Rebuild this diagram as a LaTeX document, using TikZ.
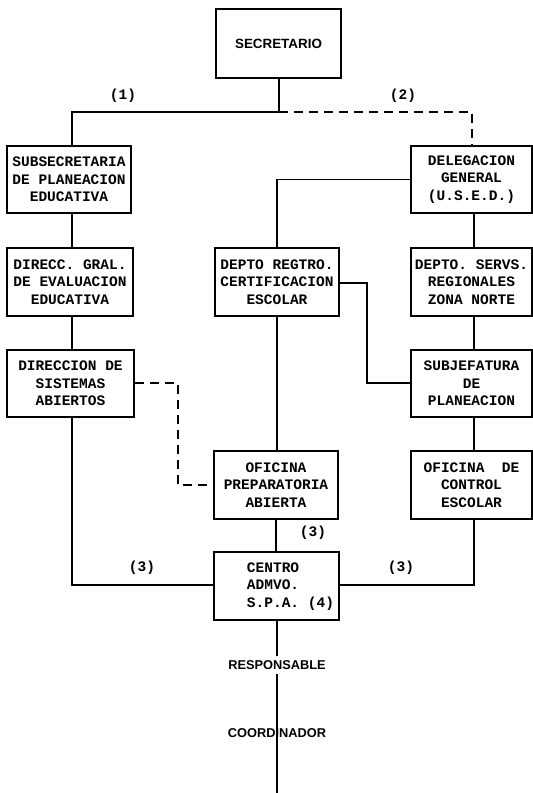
\documentclass[tikz,border=0pt]{standalone}
\usepackage{fontspec}
\setmainfont{Liberation Sans}
\setmonofont{Liberation Mono}
\begin{document}
\begin{tikzpicture}[x=1pt,y=-1pt,
  box/.style={draw,line width=1.5pt,inner sep=0pt,minimum height=67pt,align=center,
    font=\ttfamily\bfseries\fontsize{14.5}{17.5}\selectfont},
  conn/.style={line width=1.5pt},
  dconn/.style={line width=1.5pt,dash pattern=on 9pt off 6pt},
  lab/.style={font=\ttfamily\bfseries\fontsize{14.5}{17.5}\selectfont,inner sep=0pt},
  plainlab/.style={font=\rmfamily\bfseries\fontsize{12.8}{15}\selectfont,inner sep=4pt}]
\useasboundingbox (0,0) rectangle (533,793);
% boxes
\node[box,minimum width=125pt,minimum height=69pt,font=\rmfamily\bfseries\fontsize{13.4}{15}\selectfont] (sec) at (278.5,43.5) {SECRETARIO};
\node[box,minimum width=124pt] (sub) at (69,179.5) {SUBSECRETARIA\\DE PLANEACION\\EDUCATIVA};
\node[box,minimum width=126pt,minimum height=68pt] (dir) at (70,282) {DIRECC. GRAL.\\DE EVALUACION\\EDUCATIVA};
\node[box,minimum width=127pt] (dsa) at (70.5,383.5) {DIRECCION DE\\SISTEMAS\\ABIERTOS};
\node[box,minimum width=124pt,minimum height=68pt] (dep) at (277,282) {DEPTO REGTRO.\\CERTIFICACION\\ESCOLAR};
\node[box,minimum width=124pt,minimum height=68pt] (ofp) at (276,485) {OFICINA\\PREPARATORIA\\ABIERTA};
\node[box,minimum width=125pt,minimum height=68pt] (cen) at (276.5,586) {\hspace*{28pt}\begin{tabular}{@{}l@{}}CENTRO\\ADMVO.\\S.P.A. (4)\end{tabular}};
\node[box,minimum width=121pt] (del) at (471.5,179.5) {DELEGACION\\GENERAL\\(U.S.E.D.)};
\node[box,minimum width=121pt,minimum height=68pt] (dsr) at (471.5,282) {DEPTO. SERVS.\\REGIONALES\\ZONA NORTE};
\node[box,minimum width=121pt] (sj) at (471.5,383.5) {SUBJEFATURA\\DE\\PLANEACION};
\node[box,minimum width=121pt,minimum height=68pt] (ofc) at (471.5,485) {OFICINA\ \ DE\\CONTROL\\ESCOLAR};
% bottom texts
\node[plainlab] (resp) at (277,665) {RESPONSABLE};
\node[plainlab] (coord) at (277,733) {COORDINADOR};
\coordinate (end) at (277,793);
% helper coordinates
\coordinate (j1) at (279,112);
\coordinate (jl) at (72,112);
\coordinate (jr) at (472,112);
\coordinate (jb) at (72,585);
\coordinate (jm) at (277,180);
\coordinate (xr) at (474,0);
\coordinate (jc) at (474,585);
\coordinate (k1) at (367,283);
\coordinate (k2) at (367,383);
\coordinate (d1) at (178,383);
\coordinate (d2) at (178,485);
\coordinate (xb) at (277,0);
% connectors
\draw[conn] (sec.south -| j1) -- (j1) -- (jl) -- (jl |- sub.north);
\draw[dconn] (j1) -- (jr) -- (jr |- del.north);
\draw[conn] (jl |- sub.south) -- (jl |- dir.north);
\draw[conn] (jl |- dir.south) -- (jl |- dsa.north);
\draw[conn] (jl |- dsa.south) -- (jb) -- (jb -| cen.west);
\draw[conn] (del.west) -- (del.west -| jm) -- (jm |- dep.north);
\draw[conn] (xr |- del.south) -- (xr |- dsr.north);
\draw[conn] (xr |- dsr.south) -- (xr |- sj.north);
\draw[conn] (xr |- sj.south) -- (xr |- ofc.north);
\draw[conn] (xr |- ofc.south) -- (jc) -- (jc -| cen.east);
\draw[conn] (dep.east |- k1) -- (k1) -- (k2) -- (k2 -| sj.west);
\draw[conn] (jm |- dep.south) -- (jm |- ofp.north);
\draw[conn] (ofp.south) -- (ofp.south |- cen.north);
\draw[dconn] (dsa.east |- d1) -- (d1) -- (d2) -- (ofp.west);
\draw[conn] (xb |- cen.south) -- (xb |- resp.north);
\draw[conn] (xb |- resp.south) -- (end);
% labels
\node[lab] (l1) at (123,96) {(1)};
\node[lab] (l2) at (403,96) {(2)};
\node[lab] (l3a) at (313,533) {(3)};
\node[lab] (l3b) at (142,568) {(3)};
\node[lab] (l3c) at (401,568) {(3)};
\end{tikzpicture}
\end{document}
